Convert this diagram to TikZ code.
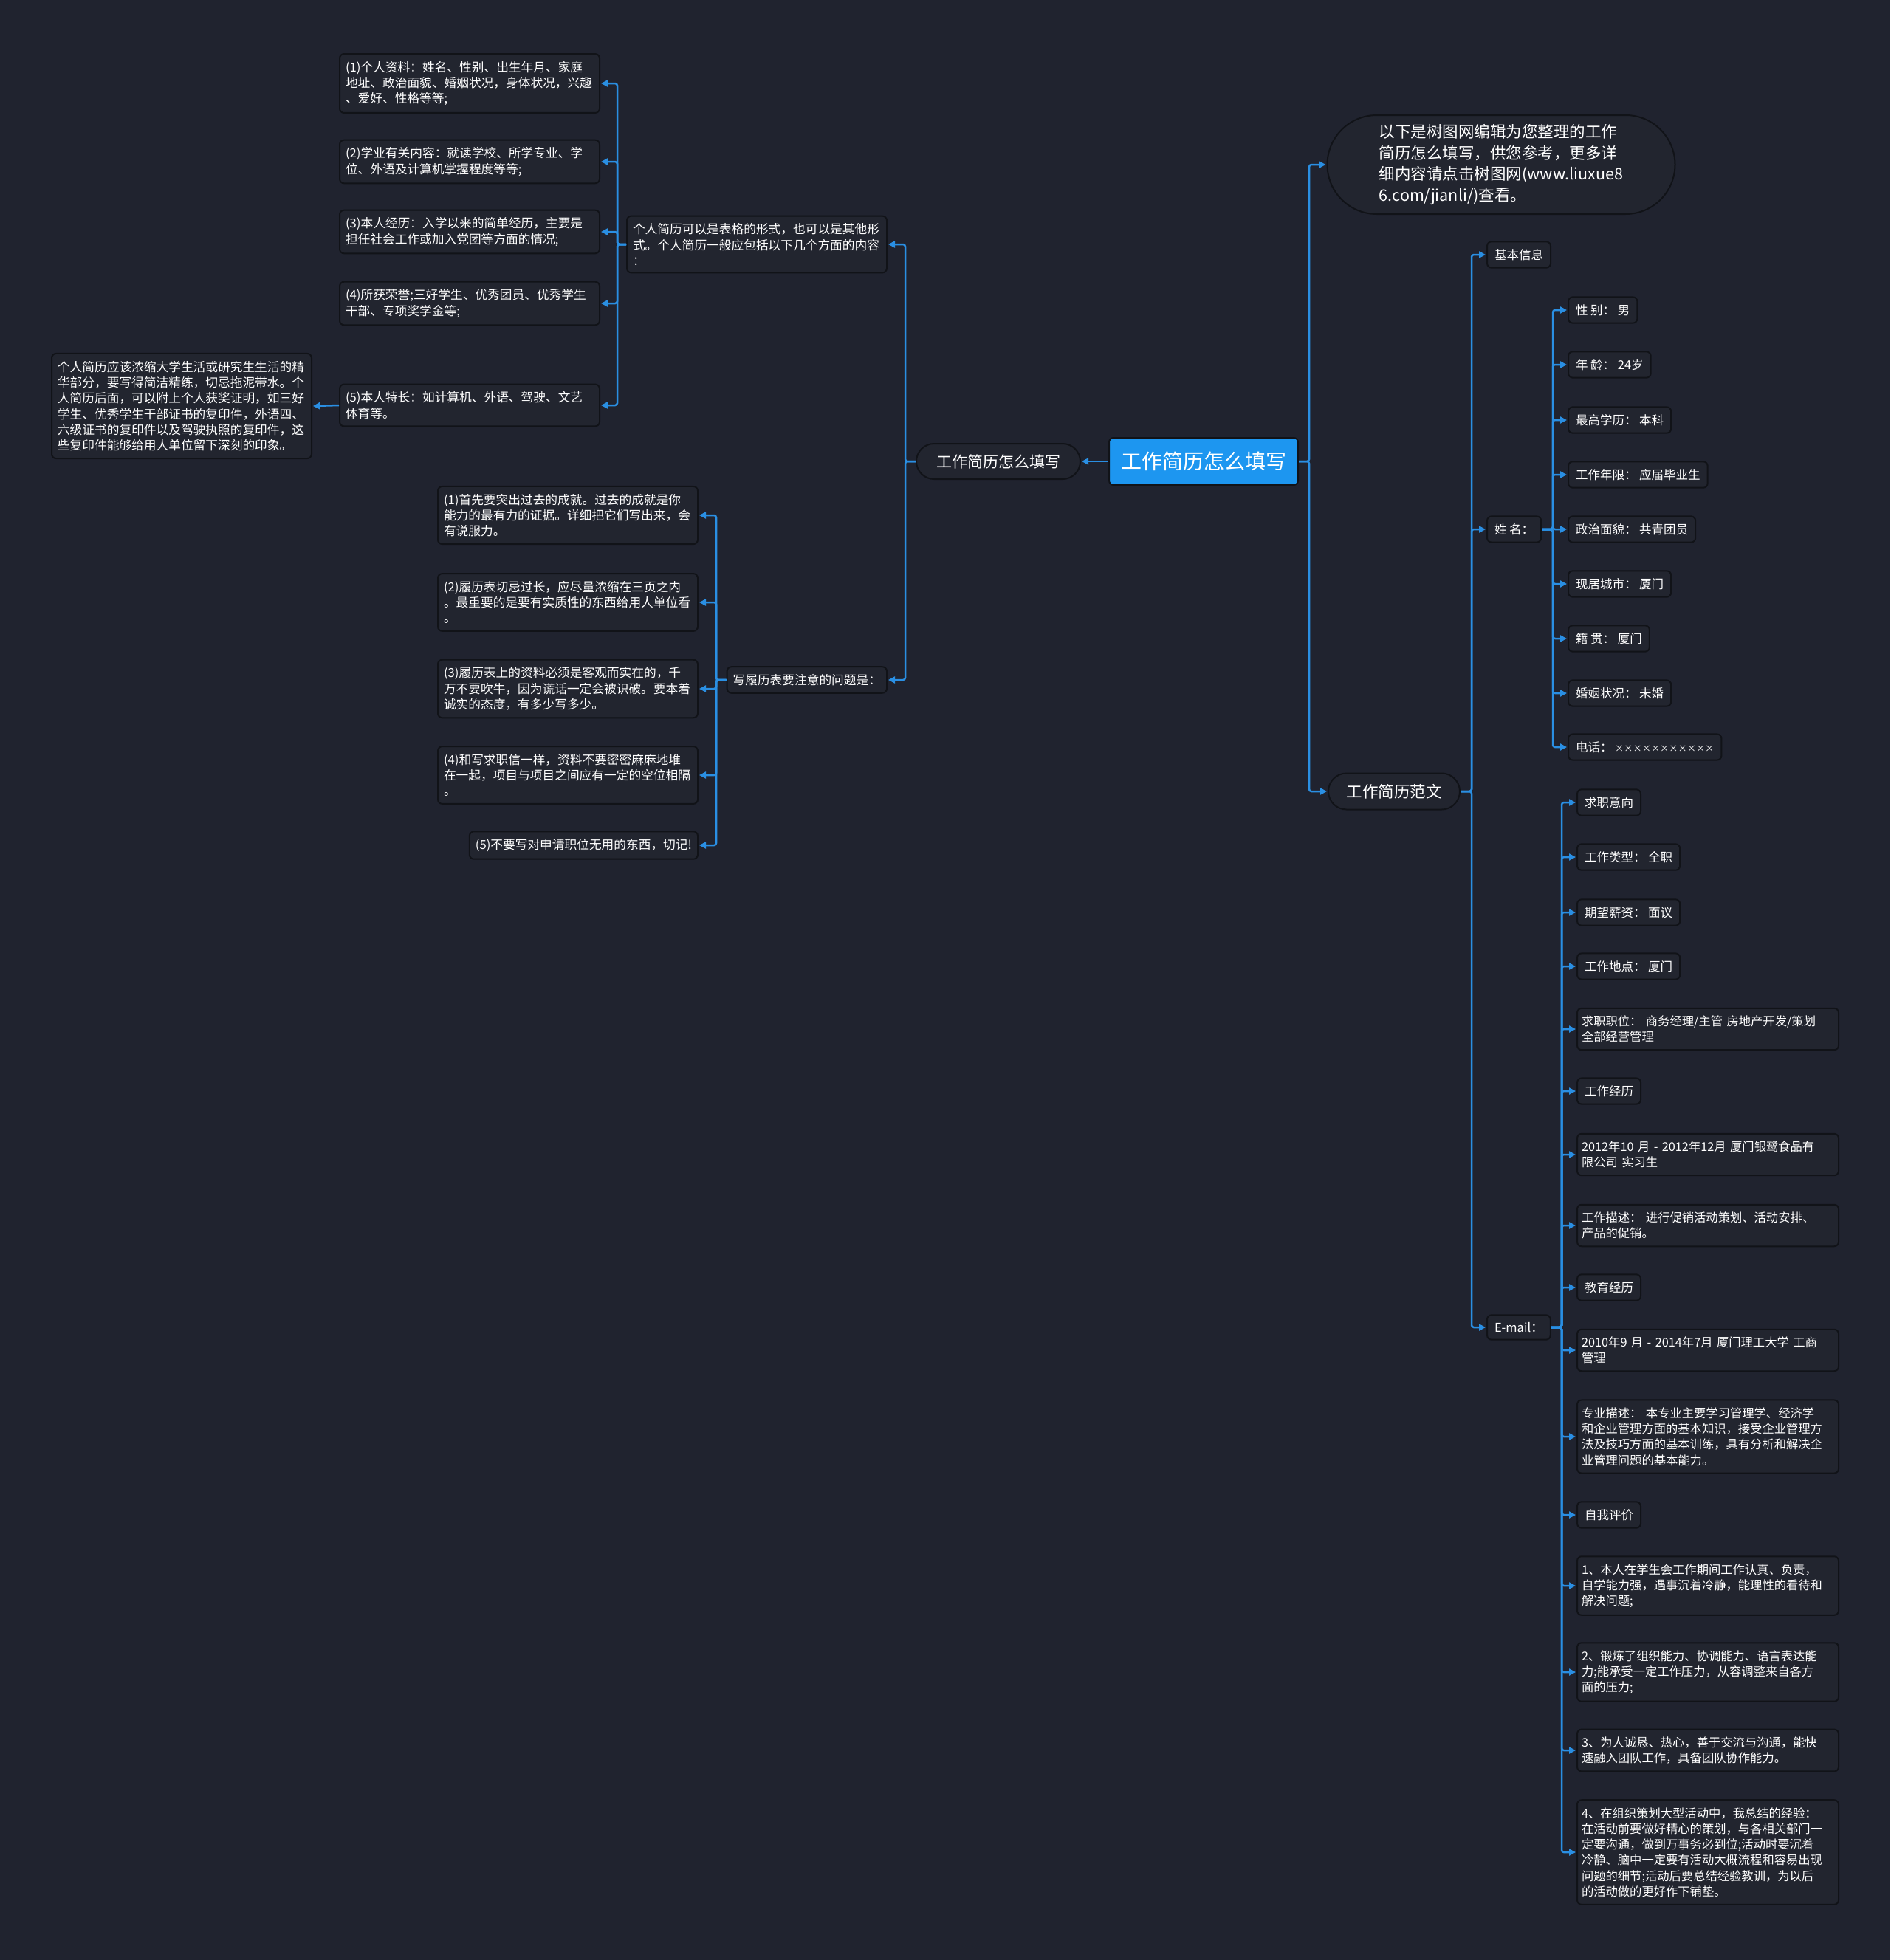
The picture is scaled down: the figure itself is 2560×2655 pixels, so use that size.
\documentclass[tikz,border=0pt]{standalone}
\usepackage{fontspec}
\setmainfont{Noto Sans CJK SC}
\usetikzlibrary{arrows.meta}
\definecolor{bg}{HTML}{20232F}
\definecolor{nfill}{HTML}{22252F}
\definecolor{nborder}{HTML}{111318}
\definecolor{linkc}{HTML}{2A8FE3}
\definecolor{rootblue}{HTML}{1D96F0}
\tikzset{
  base/.style={draw=nborder, line width=2pt, fill=nfill, text=white, rounded corners=6pt,
    inner xsep=8pt, inner ysep=10pt, font=\fontsize{16.7}{21.3}\selectfont, align=left},
  leafL/.style={base, text width=336pt, anchor=east},
  leafR/.style={base, font=\fontsize{16.3}{21.3}\selectfont, inner xsep=6pt, text width=342pt, anchor=west},
  tagL/.style={base, anchor=east},
  tagR/.style={base, font=\fontsize{16.5}{21.3}\selectfont, inner xsep=10pt, anchor=west},
  pill/.style={draw=nborder, line width=2pt, fill=nfill, text=white, inner sep=0pt},
  rootbox/.style={draw=nborder, line width=2pt, fill=rootblue, text=white, rounded corners=6pt,
    minimum width=256pt, minimum height=64pt, inner sep=0pt, font=\fontsize{28}{34}\selectfont},
  conn/.style={draw=linkc, line width=2.5pt, rounded corners=3pt,
    -{Triangle[length=9pt,width=9pt]}, shorten >=1pt},
}
\begin{document}
\begin{tikzpicture}[x=1pt,y=-1pt]
\fill[bg] (0,0) rectangle (2560,2655);
\useasboundingbox (0,0) rectangle (2560,2655);

% trunk x positions
\coordinate (tL) at (1226,0);
\coordinate (tA) at (836,0);
\coordinate (tB) at (970,0);
\coordinate (tR0) at (1773,0);
\coordinate (tR1) at (1993,0);
\coordinate (tR2) at (2103,0);
\coordinate (tR3) at (2115,0);

% root
\node[rootbox] (root) at (1630,625) {工作简历怎么填写};

% left main branch
\node[pill, rounded corners=24pt, minimum width=222pt, minimum height=48pt,
  font=\fontsize{21}{26}\selectfont] (lp) at (1352,625) {工作简历怎么填写};

\node[leafL] (a0) at (1202,331) {个人简历可以是表格的形式，也可以是其他形\\式。个人简历一般应包括以下几个方面的内容\\：};
\node[leafL] (a1) at (813,113) {(1)个人资料：姓名、性别、出生年月、家庭\\地址、政治面貌、婚姻状况，身体状况，兴趣\\、爱好、性格等等;};
\node[leafL] (a2) at (813,219) {(2)学业有关内容：就读学校、所学专业、学\\位、外语及计算机掌握程度等等;};
\node[leafL] (a3) at (813,314) {(3)本人经历：入学以来的简单经历，主要是\\担任社会工作或加入党团等方面的情况;};
\node[leafL] (a4) at (813,411) {(4)所获荣誉;三好学生、优秀团员、优秀学生\\干部、专项奖学金等;};
\node[leafL] (a5) at (813,549) {(5)本人特长：如计算机、外语、驾驶、文艺\\体育等。};
\node[leafL] (a6) at (423,550) {个人简历应该浓缩大学生活或研究生生活的精\\华部分，要写得简洁精练，切忌拖泥带水。个\\人简历后面，可以附上个人获奖证明，如三好\\学生、优秀学生干部证书的复印件，外语四、\\六级证书的复印件以及驾驶执照的复印件，这\\些复印件能够给用人单位留下深刻的印象。};

\node[tagL] (b0) at (1202,921) {写履历表要注意的问题是：};
\node[leafL] (b1) at (946,698) {(1)首先要突出过去的成就。过去的成就是你\\能力的最有力的证据。详细把它们写出来，会\\有说服力。};
\node[leafL] (b2) at (946,816) {(2)履历表切忌过长，应尽量浓缩在三页之内\\。最重要的是要有实质性的东西给用人单位看\\。};
\node[leafL] (b3) at (946,933) {(3)履历表上的资料必须是客观而实在的，千\\万不要吹牛，因为谎话一定会被识破。要本着\\诚实的态度，有多少写多少。};
\node[leafL] (b4) at (946,1050) {(4)和写求职信一样，资料不要密密麻麻地堆\\在一起，项目与项目之间应有一定的空位相隔\\。};
\node[tagL] (b5) at (946,1145) {(5)不要写对申请职位无用的东西，切记!};

% right side
\node[pill, rounded corners=67pt, minimum width=471pt, minimum height=134pt, align=left,
  font=\fontsize{21.5}{28.5}\selectfont] (intro) at (2033,223) {以下是树图网编辑为您整理的工作\\简历怎么填写，供您参考，更多详\\细内容请点击树图网(www.liuxue8\\6.com/jianli/)查看。};
\node[pill, anchor=west, rounded corners=24.5pt, minimum width=178pt, minimum height=49pt,
  font=\fontsize{21.5}{26}\selectfont] (fw) at (1798,1072) {工作简历范文};

\node[tagR] (jb) at (2013,345) {基本信息};
\node[tagR] (xm) at (2013,717) {姓 名：};
\node[tagR] (em) at (2013,1798) {E-mail：};

\node[tagR] (c1) at (2123,420) {性 别： 男};
\node[tagR] (c2) at (2123,494) {年 龄： 24岁};
\node[tagR] (c3) at (2123,569) {最高学历： 本科};
\node[tagR] (c4) at (2123,643) {工作年限： 应届毕业生};
\node[tagR] (c5) at (2123,717) {政治面貌： 共青团员};
\node[tagR] (c6) at (2123,791) {现居城市： 厦门};
\node[tagR] (c7) at (2123,865) {籍 贯： 厦门};
\node[tagR] (c8) at (2123,939) {婚姻状况： 未婚};
\node[tagR] (c9) at (2123,1012) {电话： {\fontsize{12.2}{14}\selectfont ×××××××××××}};

\node[tagR] (d1) at (2135,1087) {求职意向};
\node[tagR] (d2) at (2135,1161) {工作类型： 全职};
\node[tagR] (d3) at (2135,1236) {期望薪资： 面议};
\node[tagR] (d4) at (2135,1309) {工作地点： 厦门};
\node[leafR] (d5) at (2135,1394) {求职职位： 商务经理/主管 房地产开发/策划\\全部经营管理};
\node[tagR] (d6) at (2135,1478) {工作经历};
\node[leafR] (d7) at (2135,1564) {2012年10 月 - 2012年12月 厦门银鹭食品有\\限公司 实习生};
\node[leafR] (d8) at (2135,1660) {工作描述： 进行促销活动策划、活动安排、\\产品的促销。};
\node[tagR] (d9) at (2135,1744) {教育经历};
\node[leafR] (d10) at (2135,1829) {2010年9 月 - 2014年7月 厦门理工大学 工商\\管理};
\node[leafR] (d11) at (2135,1946) {专业描述： 本专业主要学习管理学、经济学\\和企业管理方面的基本知识，接受企业管理方\\法及技巧方面的基本训练，具有分析和解决企\\业管理问题的基本能力。};
\node[tagR] (d12) at (2135,2052) {自我评价};
\node[leafR] (d13) at (2135,2148) {1、本人在学生会工作期间工作认真、负责，\\自学能力强，遇事沉着冷静，能理性的看待和\\解决问题;};
\node[leafR] (d14) at (2135,2265) {2、锻炼了组织能力、协调能力、语言表达能\\力;能承受一定工作压力，从容调整来自各方\\面的压力;};
\node[leafR] (d15) at (2135,2371) {3、为人诚恳、热心，善于交流与沟通，能快\\速融入团队工作，具备团队协作能力。};
\node[leafR] (d16) at (2135,2509) {4、在组织策划大型活动中，我总结的经验：\\在活动前要做好精心的策划，与各相关部门一\\定要沟通，做到万事务必到位;活动时要沉着\\冷静、脑中一定要有活动大概流程和容易出现\\问题的细节;活动后要总结经验教训，为以后\\的活动做的更好作下铺垫。};

% connectors left
\draw[conn] (root.west) -- (lp.east);
\foreach \c in {a0,b0} \draw[conn] (lp.west) -- (lp.west -| tL) |- (\c.east);
\foreach \c in {a1,a2,a3,a4,a5} \draw[conn] (a0.west) -- (a0.west -| tA) |- (\c.east);
\draw[conn] (a5.west) -- (a6.east);
\foreach \c in {b1,b2,b3,b4,b5} \draw[conn] (b0.west) -- (b0.west -| tB) |- (\c.east);

% connectors right
\foreach \c in {intro,fw} \draw[conn] (root.east) -- (root.east -| tR0) |- (\c.west);
\foreach \c in {jb,xm,em} \draw[conn] (fw.east) -- (fw.east -| tR1) |- (\c.west);
\foreach \c in {c1,c2,c3,c4,c5,c6,c7,c8,c9} \draw[conn] (xm.east) -- (xm.east -| tR2) |- (\c.west);
\foreach \c in {d1,d2,d3,d4,d5,d6,d7,d8,d9,d10,d11,d12,d13,d14,d15,d16} \draw[conn] (em.east) -- (em.east -| tR3) |- (\c.west);
\end{tikzpicture}
\end{document}
